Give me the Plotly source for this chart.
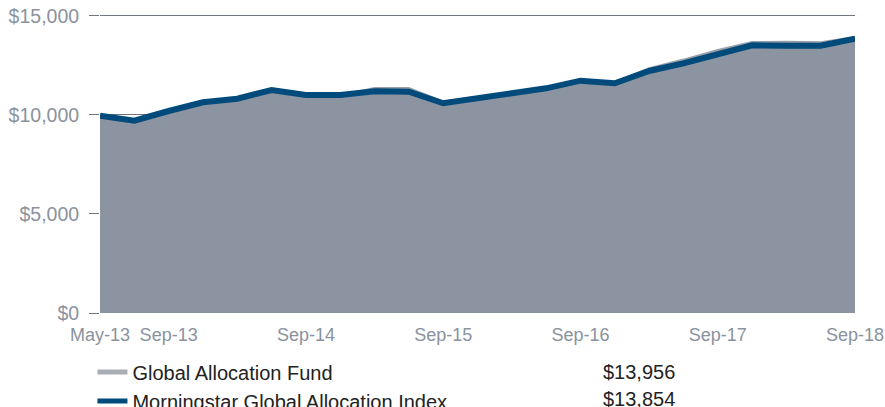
import plotly.graph_objects as go

categories = ["May-13", "Jun-13", "Sep-13", "Dec-13", "Mar-14", "Jun-14", "Sep-14", "Dec-14",
              "Mar-15", "Jun-15", "Sep-15", "Dec-15", "Mar-16", "Jun-16", "Sep-16", "Dec-16",
              "Mar-17", "Jun-17", "Sep-17", "Dec-17", "Mar-18", "Jun-18", "Sep-18"]
fund = [10000, 9780, 10230, 10650, 10840, 11280, 11020, 11010, 11380, 11380, 10700, 10940,
        11130, 11380, 11760, 11650, 12370, 12810, 13300, 13700, 13710, 13690, 13956]
index_vals = [9965, 9712, 10202, 10640, 10823, 11263, 11010, 11010, 11197, 11177, 10590, 10875,
              11094, 11347, 11732, 11600, 12222, 12610, 13065, 13520, 13500, 13500, 13854]
tick_labels = ["May-13", "Sep-13", "Sep-14", "Sep-15", "Sep-16", "Sep-17", "Sep-18"]
series_names = ["Global Allocation Fund", "Morningstar Global Allocation Index"]
ending_values = ["$13,956", "$13,854"]

FONT = "Liberation Sans"
AXIS_GRAY = "#8a929e"
FUND_FILL = "#8b94a0"
FUND_LEGEND = "#a9aeb6"
INDEX_BLUE = "#004b7c"

fig = go.Figure()
fig.add_trace(go.Scatter(
    x=categories, y=fund, name=series_names[0], mode="lines", showlegend=False,
    line=dict(color="#99a0a9", width=1.5), fill="tozeroy", fillcolor=FUND_FILL))
fig.add_trace(go.Scatter(
    x=categories, y=index_vals, name=series_names[1], mode="lines", showlegend=False,
    line=dict(color=INDEX_BLUE, width=6)))
# legend entries (line symbols only)
fig.add_trace(go.Scatter(x=[None], y=[None], name=series_names[0], mode="lines",
                         line=dict(color=FUND_LEGEND, width=5)))
fig.add_trace(go.Scatter(x=[None], y=[None], name=series_names[1], mode="lines",
                         line=dict(color=INDEX_BLUE, width=5)))

# ending values in legend column
for i, v in enumerate(ending_values):
    fig.add_annotation(xref="paper", yref="paper", x=0.663, y=-0.1973 - i * 0.089,
                       text=v, showarrow=False, xanchor="left", yanchor="middle",
                       font=dict(family=FONT, size=20, color="#222222"))

fig.update_layout(
    width=885, height=407,
    margin=dict(l=100, r=30, t=14, b=94, autoexpand=False),
    paper_bgcolor="white", plot_bgcolor="white",
    font=dict(family=FONT, color=AXIS_GRAY),
    showlegend=True,
    legend=dict(x=-0.010, y=-0.132, xanchor="left", yanchor="top",
                font=dict(family=FONT, size=20, color="#222222"),
                tracegroupgap=0, itemwidth=30, bgcolor="rgba(0,0,0,0)"),
    xaxis=dict(type="category", range=[0, len(categories) - 1], automargin=False,
               tickmode="array", tickvals=tick_labels, ticktext=tick_labels,
               showgrid=False, zeroline=False, showline=False,
               ticks="outside", ticklen=5, tickcolor="rgba(0,0,0,0)",
               tickfont=dict(family=FONT, size=18, color=AXIS_GRAY)),
    yaxis=dict(range=[0, 15100], tickvals=[0, 5000, 10000, 15000], automargin=False,
               tickformat="$,.0f", showgrid=True, gridcolor="#6e7480", gridwidth=1,
               zeroline=False, showline=False, ticks="outside", ticklen=10,
               ticklabelstandoff=6,
               tickcolor="#6e7480", tickfont=dict(family=FONT, size=19.5, color=AXIS_GRAY)),
)

fig.write_html("out.html", post_script="document.body.style.margin='0';",
               config={"displayModeBar": False})
